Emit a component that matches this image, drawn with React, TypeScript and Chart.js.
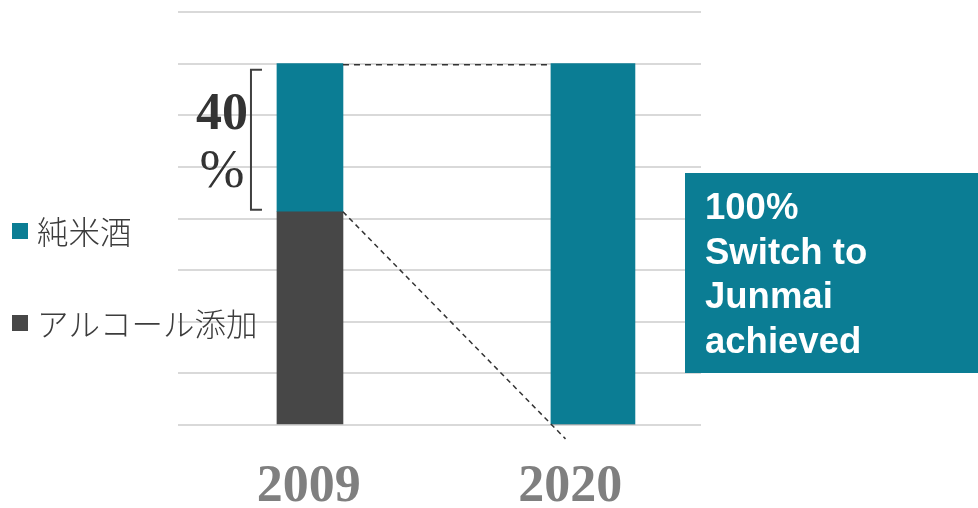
import React, { useEffect, useRef } from 'react';
import { Chart, registerables } from 'chart.js';

Chart.register(...registerables);

// ---- data ----
const categories = ['2009', '2020'];
const seriesNames = ['純米酒', 'アルコール添加'];
const junmaiShare = [41, 100];
const additiveShare = [59, 0];
const bracketLabel = ['40', '%'];
const calloutLines = ['100%', 'Switch to', 'Junmai', 'achieved'];
const yMax = 800 / 7;
const yStep = 100 / 7;

const TEAL = '#0b7d94';
const DARK = '#474747';
const barWidths = [66, 84];

const overlayPlugin = {
  id: 'overlay',
  afterDraw(chart: any) {
    const ctx = chart.ctx as CanvasRenderingContext2D;
    const el = (k: number) => chart.getDatasetMeta(k).data[0] as any;
    const dark09 = el(0);
    const teal09 = el(1);
    const teal20 = el(3);
    ctx.save();

    // dashed connectors
    ctx.strokeStyle = '#333333';
    ctx.lineWidth = 1.5;
    ctx.setLineDash([6, 5]);
    const r09 = teal09.x + teal09.width / 2;
    const l20 = teal20.x - teal20.width / 2;
    ctx.beginPath();
    ctx.moveTo(r09, teal09.y + 1);
    ctx.lineTo(l20, teal09.y + 1);
    ctx.stroke();
    const ax = r09, ay = dark09.y;
    const bx = l20, by = teal20.base;
    const k = 1.07;
    ctx.setLineDash([5, 4]);
    ctx.beginPath();
    ctx.moveTo(ax, ay);
    ctx.lineTo(ax + (bx - ax) * k, ay + (by - ay) * k);
    ctx.stroke();
    ctx.setLineDash([]);

    // bracket
    const bl = teal09.x - teal09.width / 2 - 26;
    const bt = teal09.y + 6;
    const bb = teal09.base - 2;
    ctx.strokeStyle = '#404040';
    ctx.lineWidth = 2;
    ctx.beginPath();
    ctx.moveTo(bl + 11, bt);
    ctx.lineTo(bl, bt);
    ctx.lineTo(bl, bb);
    ctx.lineTo(bl + 11, bb);
    ctx.stroke();

    // 40 %
    const mid = (bt + bb) / 2;
    ctx.fillStyle = '#333333';
    ctx.textAlign = 'center';
    ctx.textBaseline = 'middle';
    ctx.font = 'bold 52px "Liberation Serif"';
    ctx.fillText(bracketLabel[0], bl - 29, mid - 24);
    ctx.font = '54px "Liberation Serif"';
    ctx.fillText(bracketLabel[1], bl - 29, mid + 33);

    // legend
    const legendColors = [TEAL, DARK];
    const legendY = [231, 323];
    ctx.textAlign = 'left';
    ctx.font = '300 31.5px "Noto Sans CJK JP"';
    seriesNames.forEach((name, i) => {
      ctx.fillStyle = legendColors[i];
      ctx.fillRect(12, legendY[i] - 8, 16, 16);
      ctx.fillStyle = '#3c3c3c';
      ctx.fillText(name, 37, legendY[i] + 1);
    });

    // callout box
    ctx.fillStyle = TEAL;
    ctx.fillRect(685, 173, 293, 200);
    ctx.fillStyle = '#ffffff';
    ctx.font = 'bold 36.5px "Liberation Sans"';
    ctx.textBaseline = 'alphabetic';
    calloutLines.forEach((line, i) => {
      ctx.fillText(line, 705, 219 + i * 44.7);
    });

    ctx.restore();
  },
};

export default function App() {
  const ref = useRef<HTMLCanvasElement | null>(null);

  useEffect(() => {
    if (!ref.current) return;
    const datasets: any[] = [];
    categories.forEach((cat, i) => {
      const x = Number(cat);
      datasets.push({
        label: seriesNames[1],
        data: [{ x, y: additiveShare[i] }],
        backgroundColor: DARK,
        barThickness: barWidths[i],
        xAxisID: 'xb',
        yAxisID: 'y',
      });
      datasets.push({
        label: seriesNames[0],
        data: [{ x, y: junmaiShare[i] }],
        backgroundColor: TEAL,
        barThickness: barWidths[i],
        xAxisID: 'xb',
        yAxisID: 'y',
      });
    });

    const chart = new Chart(ref.current, {
      type: 'bar',
      data: { labels: categories, datasets },
      options: {
        animation: false,
        responsive: true,
        maintainAspectRatio: false,
        layout: { padding: { left: 178, right: 277, top: 12, bottom: 0 } },
        plugins: { legend: { display: false }, tooltip: { enabled: false } },
        scales: {
          x: {
            type: 'category',
            labels: categories,
            position: 'bottom',
            grid: { display: false, drawTicks: false },
            border: { display: false },
            ticks: {
              padding: 31,
              color: '#7f7f7f',
              font: { family: 'Liberation Serif', size: 52, weight: 'bold' },
            },
            afterFit: (s: any) => { s.height = 83; },
          },
          xb: {
            type: 'linear',
            display: false,
            position: 'bottom',
            offset: false,
            grid: { offset: false },
            min: 2003.87,
            max: 2024.2,
            stacked: true,
          },
          y: {
            type: 'linear',
            min: 0,
            max: yMax,
            stacked: true,
            grid: { color: '#d9d9d9', lineWidth: 2, drawTicks: false },
            border: { display: false },
            ticks: { display: false },
            afterBuildTicks: (s: any) => {
              const t = [];
              for (let v = 0; v <= yMax + 0.001; v += yStep) t.push({ value: v });
              s.ticks = t;
            },
            afterFit: (s: any) => { s.width = 0; },
          },
        },
      } as any,
      plugins: [overlayPlugin],
    });
    return () => chart.destroy();
  }, []);

  return (
    <div style={{ position: 'absolute', left: 0, top: 0, width: 978, height: 508, background: '#ffffff' }}>
      <canvas ref={ref} />
    </div>
  );
}
